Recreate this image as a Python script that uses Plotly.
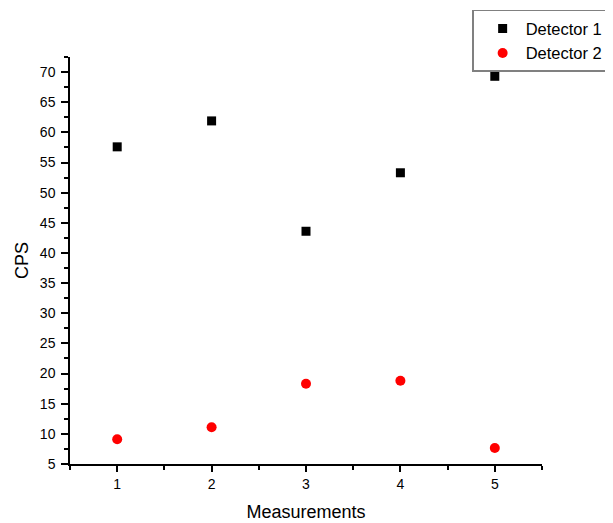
import plotly.graph_objects as go

measurements = [1, 2, 3, 4, 5]
detector1 = [57.6, 61.9, 43.6, 53.3, 69.3]
detector2 = [9.1, 11.1, 18.3, 18.8, 7.65]
x_ticks = [1, 2, 3, 4, 5]
y_ticks = [5, 10, 15, 20, 25, 30, 35, 40, 45, 50, 55, 60, 65, 70]

font = "Liberation Sans, Arial, sans-serif"

fig = go.Figure()
fig.add_trace(go.Scatter(x=measurements, y=detector1, mode="markers", name="Detector 1",
                         marker=dict(symbol="square", size=9, color="black")))
fig.add_trace(go.Scatter(x=measurements, y=detector2, mode="markers", name="Detector 2",
                         marker=dict(symbol="circle", size=10, color="#ff0000")))

fig.update_layout(
    width=613, height=523,
    margin=dict(l=62, r=79, t=49, b=67, autoexpand=False),
    paper_bgcolor="white", plot_bgcolor="white",
    font=dict(family=font, color="black"),
    showlegend=True,
    legend=dict(x=0.852, y=1.116, xanchor="left", yanchor="top",
                bordercolor="#808080", borderwidth=1.5, bgcolor="white",
                font=dict(size=16.5, family=font), tracegroupgap=0,
                itemwidth=36, indentation=6),
    xaxis=dict(range=[0.5, 5.5], tickvals=x_ticks, showgrid=False, zeroline=False,
               showline=True, linecolor="black", linewidth=1.5,
               ticks="outside", ticklen=6, tickwidth=1.5, tickcolor="black",
               tickfont=dict(size=14, family=font),
               minor=dict(ticks="outside", dtick=0.5, tick0=0.5, ticklen=4, tickwidth=1.5, tickcolor="black"),
               title=dict(text="Measurements", font=dict(size=18, family=font), standoff=15)),
    yaxis=dict(range=[5, 72.5], tickvals=y_ticks, showgrid=False, zeroline=False,
               showline=True, linecolor="black", linewidth=1.5,
               ticks="outside", ticklen=7, tickwidth=1.5, tickcolor="black",
               tickfont=dict(size=14, family=font), ticklabelstandoff=3,
               minor=dict(ticks="outside", dtick=2.5, tick0=2.5, ticklen=4, tickwidth=1.5, tickcolor="black"),
               title=dict(text="CPS", font=dict(size=18, family=font), standoff=7)),
)

fig.write_html("out.html")
